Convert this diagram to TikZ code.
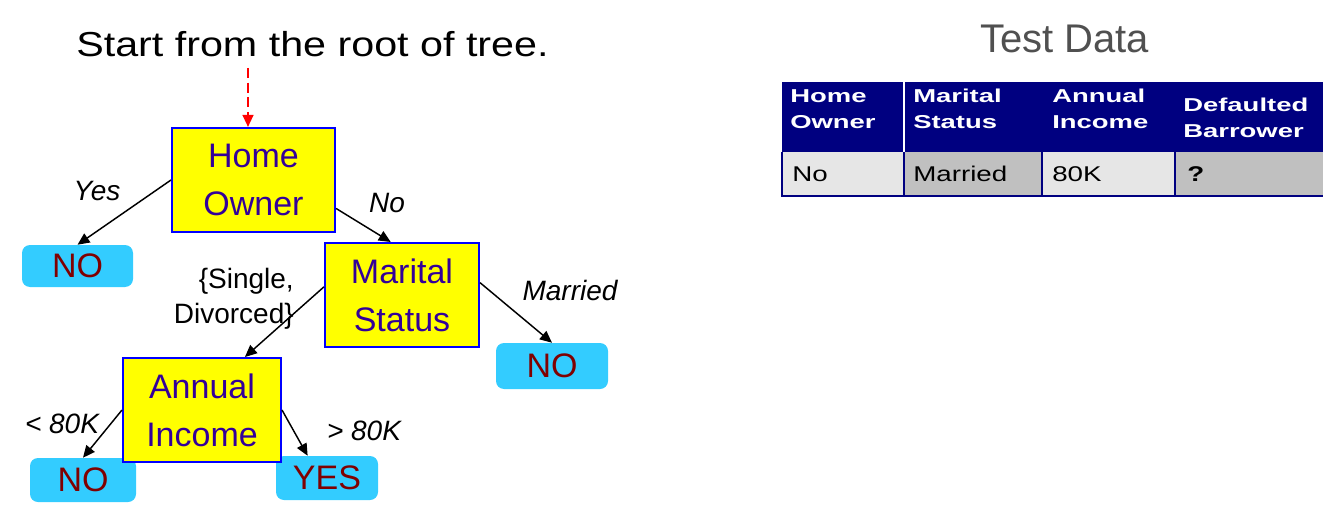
\documentclass[tikz,border=0pt]{standalone}
\usepackage{fontspec}
\setmainfont{Liberation Sans}
\newfontfamily\titlefont[FakeStretch=1.19]{Liberation Sans}
\newfontfamily\thfont[FakeStretch=1.47]{Liberation Sans}
\newfontfamily\tdfont[FakeStretch=1.3]{Liberation Sans}
\usetikzlibrary{arrows.meta}
\definecolor{boxblue}{RGB}{0,0,255}
\definecolor{boxyellow}{RGB}{255,255,0}
\definecolor{nodetext}{RGB}{51,0,153}
\definecolor{leafcyan}{RGB}{51,204,255}
\definecolor{leafred}{RGB}{128,0,0}
\definecolor{navyblue}{RGB}{0,0,128}
\definecolor{celllight}{RGB}{230,230,230}
\definecolor{celldark}{RGB}{192,192,192}
\definecolor{titlegray}{RGB}{80,80,80}
\begin{document}
\begin{tikzpicture}[x=0.75pt,y=-0.75pt,
  decision/.style={draw=boxblue, line width=1.5pt, fill=boxyellow, text=nodetext,
    font=\fontsize{25.5}{36}\selectfont, align=center, minimum height=78pt, inner sep=0pt},
  leaf/.style={fill=leafcyan, rounded corners=6pt, text=leafred,
    font=\fontsize{25.5}{30}\selectfont, inner sep=0pt},
  edge/.style={line width=1.1pt, -{Triangle[length=9pt,width=8pt]}},
  elabel/.style={font=\fontsize{21}{26}\selectfont\itshape, inner sep=0pt},
  plabel/.style={font=\fontsize{21}{26}\selectfont, inner sep=0pt},
  thtext/.style={font=\thfont\bfseries\fontsize{14}{20}\selectfont, text=white, align=left, inner sep=0pt, anchor=base west},
  tdtext/.style={font=\tdfont\fontsize{16}{19}\selectfont, text=black, inner sep=0pt, anchor=base west},
  sepline/.style={draw=navyblue, line width=0.9pt}
]
\useasboundingbox (0,0) rectangle (1323,524);

% title
\node[font=\titlefont\fontsize{26}{30}\selectfont, inner sep=0pt, anchor=base west] (title) at (76,57) {Start from the root of tree.};

% leaves
\node[leaf, minimum width=83.25pt, minimum height=31.5pt] (no1) at (77.5,266) {\raisebox{-2.5pt}{NO}};
\node[leaf, minimum width=84pt, minimum height=34.5pt] (no2) at (552,366) {\raisebox{-2.5pt}{NO}};
\node[leaf, minimum width=79.5pt, minimum height=33pt] (no3) at (83,480) {\raisebox{-2.5pt}{NO}};
\node[leaf, minimum width=76.5pt, minimum height=33pt] (yes) at (327,478) {\raisebox{-2.5pt}{YES}};

% decisions
\node[decision, minimum width=122.25pt] (ho) at (253.5,180) {Home\\Owner};
\node[decision, minimum width=115.5pt] (ms) at (402,295) {Marital\\Status};
\node[decision, minimum width=118.5pt] (ai) at (202,410) {Annual\\Income};

% start arrow
\coordinate (start) at (248,68);
\draw[red, line width=1.6pt, dash pattern=on 7.5pt off 3.5pt, -{Triangle[length=9pt,width=8pt]}] (start) -- (start |- ho.north);

% edges
\draw[edge] (ho.west) -- (no1.north);
\draw[edge] (ho.-19) -- (ms.102);
\draw[edge] (ms.174) -- (ai.51);
\draw[edge] (ms.9.6) -- (no2.north);
\draw[edge] (ai.west) -- (no3.north);
\draw[edge] (ai.east) -- (yes.131);

% edge labels
\node[elabel, anchor=base] (lyes) at (97,200) {Yes};
\node[elabel, anchor=base] (lno) at (387,212) {No};
\node[plabel, anchor=base east, align=right] (lsd) at (294,323) {\{Single,\\Divorced\}};
\node[elabel, anchor=base] (lmar) at (570,300) {Married};
\node[elabel, anchor=base] (llt) at (62,433) {< 80K};
\node[elabel, anchor=base] (lgt) at (364,440) {> 80K};

% test data title
\node[font=\fontsize{30}{34}\selectfont, text=titlegray, inner sep=0pt, anchor=base west] (tdtitle) at (980,53) {Test Data};

% table
\fill[navyblue] (782,82) rectangle (1323,152);
\fill[celllight] (782,152) rectangle (904,196);
\fill[celldark] (904,152) rectangle (1042,196);
\fill[celllight] (1042,152) rectangle (1175,196);
\fill[celldark] (1175,152) rectangle (1323,196);
\draw[white, line width=1.2pt] (904,82) -- (904,152);
\draw[sepline] (782,152) -- (782,196) -- (1323,196);
\draw[sepline] (904,152) -- (904,196);
\draw[sepline] (1042,152) -- (1042,196);
\draw[sepline] (1175,152) -- (1175,196);

\node[thtext] (h1) at (790,129) {Home\\Owner};
\node[thtext] (h2) at (913,129) {Marital\\Status};
\node[thtext] (h3) at (1052,129) {Annual\\Income};
\node[thtext] (h4) at (1183,138) {Defaulted\\Barrower};

\node[tdtext] (d1) at (792,181) {No};
\node[tdtext] (d2) at (913,181) {Married};
\node[tdtext] (d3) at (1052,181) {80K};
\node[tdtext, font=\tdfont\bfseries\fontsize{16}{19}\selectfont] (d4) at (1187,181) {?};
\end{tikzpicture}
\end{document}
